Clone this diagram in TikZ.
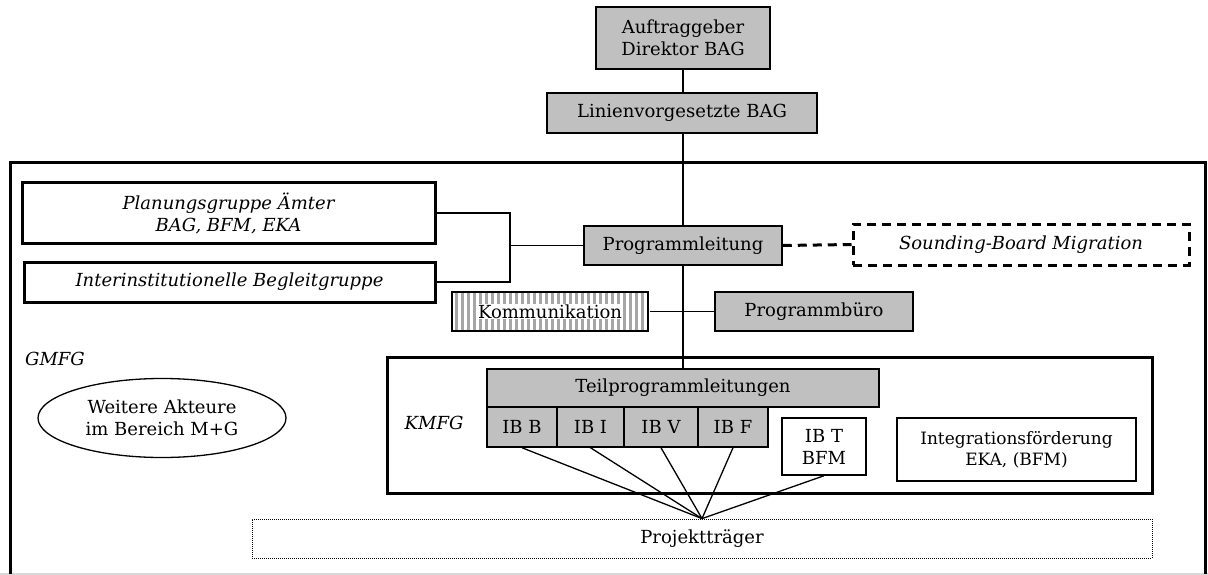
\documentclass[tikz,border=0pt]{standalone}
\usepackage{fontspec}
\setmainfont{DejaVu Serif}
\usetikzlibrary{shapes.geometric,patterns.meta}

\definecolor{boxgray}{RGB}{192,192,192}
\definecolor{framegray}{RGB}{216,216,216}

\tikzset{
    txt/.style={font=\fontsize{18}{22}\selectfont, align=center, inner sep=0pt},
    itxt/.style={txt, font=\fontsize{18}{22}\selectfont\itshape},
    graybox/.style={txt, draw, fill=boxgray, line width=1.5pt},
    whitebox/.style={txt, draw, fill=white, line width=1.5pt},
    thickbox/.style={itxt, draw, line width=3pt},
    dashbox/.style={thickbox, dash pattern=on 9pt off 6pt},
    stripebox/.style={txt, draw, line width=1.5pt,
        pattern={Lines[angle=90,distance=6pt,line width=3pt]}, pattern color=gray!70},
    link/.style={line width=1.5pt},
}

\begin{document}
\begin{tikzpicture}[x=1pt,y=-1pt]
    \useasboundingbox (0,0) rectangle (1208,575);

    % frames
    \draw[framegray, line width=1.5pt] (0,574) -- (1208,574);
    \draw[line width=3pt] (10,574) -- (10,163) -- (1205,163) -- (1205,574);
    \node[draw, line width=3pt, minimum width=765pt, minimum height=136pt, inner sep=0pt]
        (kmfg) at (769.5,425) {};
    \node[itxt] (gmfglab) at (55,359) {GMFG};
    \node[itxt] (kmfglab) at (434,423) {KMFG};

    % top
    \node[graybox, minimum width=174pt, minimum height=62pt] (auftrag) at (683,38)
        {Auftraggeber\\Direktor BAG};
    \node[graybox, minimum width=270pt, minimum height=40pt] (linie) at (682,113)
        {Linienvorgesetzte BAG};

    % GMFG
    \node[thickbox, minimum width=413pt, minimum height=60pt] (plan) at (228.5,213)
        {Planungsgruppe Ämter\\BAG, BFM, EKA};
    \node[thickbox, minimum width=411pt, minimum height=40pt] (inter) at (229.5,282)
        {Interinstitutionelle Begleitgruppe};
    \node[graybox, minimum width=198pt, minimum height=39pt] (prog) at (683,245.5)
        {Programmleitung};
    \node[dashbox, minimum width=336pt, minimum height=41pt] (sound) at (1021,244.5)
        {Sounding-Board Migration};
    \node[stripebox, minimum width=196pt, minimum height=39pt] (komm) at (550,311.5) {};
    \node[txt, fill=white, inner sep=1pt] (kommlab) at (komm) {Kommunikation};
    \node[graybox, minimum width=198pt, minimum height=39pt] (buero) at (814,311.5)
        {Programmbüro};
    \node[txt, draw, ellipse, line width=1.3pt, minimum width=248pt, minimum height=79pt]
        (akteure) at (162,418) {Weitere Akteure\\im Bereich M+G};

    % KMFG
    \node[graybox, minimum width=392pt, minimum height=38pt] (teil) at (683,388)
        {Teilprogrammleitungen};
    \node[graybox, minimum width=70pt, minimum height=40pt] (ibb) at (522,427) {IB B};
    \node[graybox, minimum width=67pt, minimum height=40pt] (ibi) at (590.5,427) {IB I};
    \node[graybox, minimum width=74pt, minimum height=40pt] (ibv) at (661,427) {IB V};
    \node[graybox, minimum width=70pt, minimum height=40pt] (ibf) at (733,427) {IB F};
    \node[whitebox, minimum width=84pt, minimum height=57pt] (ibt) at (824,446.5)
        {IB T\\BFM};
    \node[whitebox, font=\fontsize{17}{21}\selectfont, minimum width=239pt, minimum height=63pt]
        (integ) at (1016.5,449.5) {Integrationsförderung\\EKA, (BFM)};

    \node[txt, draw, line width=0.8pt, dash pattern=on 1pt off 1pt,
        minimum width=900pt, minimum height=39pt] (projekt) at (702,538.5) {Projektträger};

    % connectors
    \coordinate (brk) at (510,245.5);
    \draw[link] (auftrag.south) -- (auftrag.south |- linie.north);
    \draw[link] (prog.north) -- (prog.north |- linie.south);
    \draw[link] (prog) -- (teil);
    \draw[link] (plan.east) -| (brk) |- (inter.east);
    \draw[link] (brk) -- (prog.west);
    \draw[link] (komm.east) -- (buero.west);
    \draw[line width=3pt, dash pattern=on 9pt off 6pt] (prog.east) -- (sound.west);
    \foreach \ib in {ibb,ibi,ibv,ibf,ibt}
        \draw[line width=1.3pt] (\ib.south) -- (projekt.north);

\end{tikzpicture}
\end{document}
